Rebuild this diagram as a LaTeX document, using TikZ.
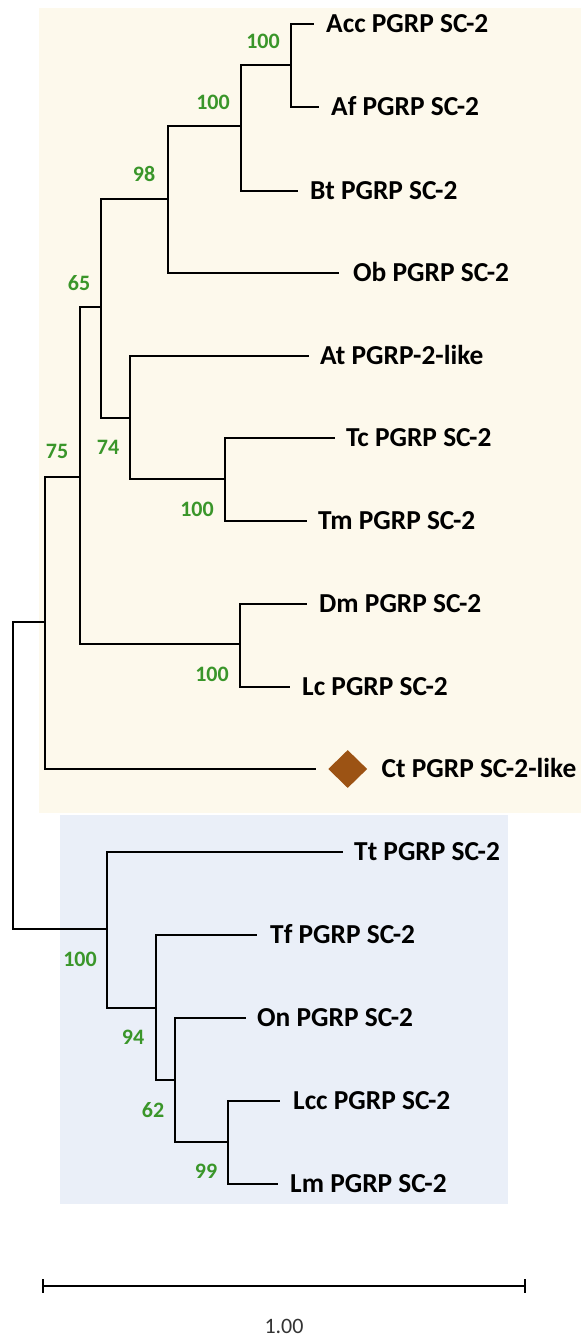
\documentclass[tikz,border=0pt]{standalone}
\usepackage{fontspec}
\setmainfont{Carlito}
\usepackage{xcolor}
\usepackage{tikz}
\usetikzlibrary{positioning}
\usetikzlibrary{shapes.geometric}

\definecolor{insectbg}{RGB}{253,249,236}
\definecolor{fishbg}{RGB}{234,239,248}
\definecolor{bootgreen}{RGB}{58,150,42}
\definecolor{ctbrown}{RGB}{156,83,20}

\tikzset{
  branch/.style={line width=2.6pt, black},
  taxon/.style={font=\bfseries\fontsize{27.4}{29}\selectfont, inner sep=0pt, text height=17.5pt, text depth=0pt},
  boot/.style={font=\bfseries\fontsize{22}{24}\selectfont, text=bootgreen, inner sep=0pt},
}

\begin{document}
\begin{tikzpicture}[x=1pt,y=-1pt]
\useasboundingbox (0,0) rectangle (581,1337);

% shaded clades
\fill[insectbg] (39,8) rectangle (581,813);
\fill[fishbg] (60,815) rectangle (508,1204);

% --- internal nodes ---
\coordinate (root) at (13,775);
\coordinate (nIns) at (45,622);
\coordinate (n75) at (80,477);
\coordinate (n65) at (101,307);
\coordinate (n98) at (168,199);
\coordinate (nABt) at (241,126);
\coordinate (nAA) at (291,65);
\coordinate (n74) at (130,418);
\coordinate (nTT) at (225,479);
\coordinate (nDL) at (240,644);
\coordinate (nFish) at (107,929);
\coordinate (n94) at (156,1008);
\coordinate (n62) at (175,1080);
\coordinate (n99) at (228,1142);

% --- leaf tips ---
\coordinate (acc) at (314,24);
\coordinate (af) at (319,107);
\coordinate (bt) at (298,191);
\coordinate (ob) at (339,273);
\coordinate (at) at (309,356);
\coordinate (tc) at (335,438);
\coordinate (tm) at (307,521);
\coordinate (dm) at (307,604);
\coordinate (lc) at (290,687);
\coordinate (ct) at (316,769);
\coordinate (tt) at (343,852);
\coordinate (tf) at (257,935);
\coordinate (on) at (246,1018);
\coordinate (lcc) at (280,1101);
\coordinate (lm) at (278,1184);

% --- branches ---
\draw[branch] (root) |- (nIns);
\draw[branch] (root) |- (nFish);
\draw[branch] (nIns) |- (n75);
\draw[branch] (nIns) |- (ct);
\draw[branch] (n75) |- (n65);
\draw[branch] (n75) |- (nDL);
\draw[branch] (n65) |- (n98);
\draw[branch] (n65) |- (n74);
\draw[branch] (n98) |- (nABt);
\draw[branch] (n98) |- (ob);
\draw[branch] (nABt) |- (nAA);
\draw[branch] (nABt) |- (bt);
\draw[branch] (nAA) |- (acc);
\draw[branch] (nAA) |- (af);
\draw[branch] (n74) |- (at);
\draw[branch] (n74) |- (nTT);
\draw[branch] (nTT) |- (tc);
\draw[branch] (nTT) |- (tm);
\draw[branch] (nDL) |- (dm);
\draw[branch] (nDL) |- (lc);
\draw[branch] (nFish) |- (tt);
\draw[branch] (nFish) |- (n94);
\draw[branch] (n94) |- (tf);
\draw[branch] (n94) |- (n62);
\draw[branch] (n62) |- (on);
\draw[branch] (n62) |- (n99);
\draw[branch] (n99) |- (lcc);
\draw[branch] (n99) |- (lm);

% --- taxa ---
\node[taxon, right=12pt of acc] (accL) {Acc PGRP SC-2};
\node[taxon, right=12pt of af] (afL) {Af PGRP SC-2};
\node[taxon, right=12pt of bt] (btL) {Bt PGRP SC-2};
\node[taxon, right=14pt of ob] (obL) {Ob PGRP SC-2};
\node[taxon, right=11pt of at] (atL) {At PGRP-2-like};
\node[taxon, right=11pt of tc] (tcL) {Tc PGRP SC-2};
\node[taxon, right=11pt of tm] (tmL) {Tm PGRP SC-2};
\node[taxon, right=12pt of dm] (dmL) {Dm PGRP SC-2};
\node[taxon, right=12pt of lc] (lcL) {Lc PGRP SC-2};
\node[diamond, fill=ctbrown, inner sep=0pt, minimum width=39pt, minimum height=38pt, right=12pt of ct] (ctD) {};
\node[taxon, right=14pt of ctD] (ctL) {Ct PGRP SC-2-like};
\node[taxon, right=11pt of tt] (ttL) {Tt PGRP SC-2};
\node[taxon, right=13pt of tf] (tfL) {Tf PGRP SC-2};
\node[taxon, right=11pt of on] (onL) {On PGRP SC-2};
\node[taxon, right=13pt of lcc] (lccL) {Lcc PGRP SC-2};
\node[taxon, right=12pt of lm] (lmL) {Lm PGRP SC-2};

% --- bootstrap values ---
\node[boot] (bAA) at (263,41) {100};
\node[boot] (bABt) at (213,102) {100};
\node[boot] (b98) at (144,174) {98};
\node[boot] (b65) at (79,283) {65};
\node[boot] (b75) at (57,451) {75};
\node[boot] (b74) at (108,447) {74};
\node[boot] (bTT) at (197,509) {100};
\node[boot] (bDL) at (212,674) {100};
\node[boot] (bFish) at (80,959) {100};
\node[boot] (b94) at (133,1037) {94};
\node[boot] (b62) at (153,1110) {62};
\node[boot] (b99) at (206,1171) {99};

% --- scale bar ---
\coordinate (sbL) at (43,1286);
\coordinate (sbR) at (525,1286);
\draw[branch] (sbL) -- (sbR);
\draw[branch] ([yshift=7pt]sbL) -- ([yshift=-7pt]sbL);
\draw[branch] ([yshift=7pt]sbR) -- ([yshift=-7pt]sbR);
\node[font=\fontsize{22}{24}\selectfont, text=black!80, inner sep=0pt] (sbT) at (284,1326) {1.00};

\end{tikzpicture}
\end{document}
